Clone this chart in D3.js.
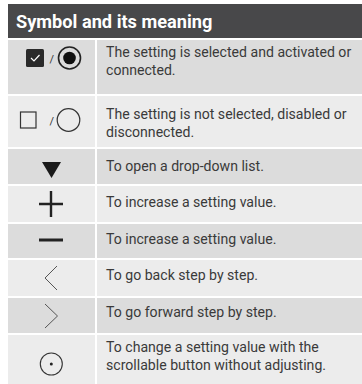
<!DOCTYPE html>
<html><head><meta charset="utf-8">
<script src="https://cdn.jsdelivr.net/npm/d3@7"></script>
<style>html,body{margin:0;padding:0;background:#fff;overflow:hidden}</style>
</head><body>
<svg id="c" width="362" height="384"></svg>
<script>
const headerTitle = "Symbol and its meaning";
const symbols = ["checked", "unchecked", "dropdown", "plus", "minus", "back", "forward", "scroll"];
const meanings = [
  ["The setting is selected and activated or", "connected."],
  ["The setting is not selected, disabled or", "disconnected."],
  ["To open a drop-down list."],
  ["To increase a setting value."],
  ["To increase a setting value."],
  ["To go back step by step."],
  ["To go forward step by step."],
  ["To change a setting value with the", "scrollable button without adjusting."]
];

// layout (not data)
const rowHeights = [54, 51, 35, 36, 34, 36, 35, 52];
const baseOff = [17, 23, 22, 21, 20, 20, 19, 17];
const iconOff = [18, 24, 21, 18, 16, 18, 18, 29];
const gap = 2, x0 = 8, colSplit = 95, x1 = 362, headerTop = 4, headerH = 34;
const lineH = 17.5;

const svg = d3.select("#c");
svg.append("rect").attr("x", x0).attr("y", headerTop).attr("width", x1 - x0).attr("height", headerH).attr("fill", "#48484a");
svg.append("text").attr("x", 16).attr("y", 28).attr("fill", "#fff")
  .attr("font-family", "Roboto").attr("font-weight", 700).attr("font-size", 18.2)
  .text(headerTitle);

let tops = [];
let y = headerTop + headerH + gap;
rowHeights.forEach(h => { tops.push(y); y += h + gap; });

const rows = symbols.map((s, i) => ({sym: s, lines: meanings[i], top: tops[i], h: rowHeights[i], i}));
const g = svg.selectAll("g.row").data(rows).join("g").attr("class", "row");
g.append("rect").attr("x", x0).attr("y", d => d.top).attr("width", colSplit - x0).attr("height", d => d.h)
  .attr("fill", d => d.i % 2 === 0 ? "#dcdcdc" : "#ececec");
g.append("rect").attr("x", colSplit + gap).attr("y", d => d.top).attr("width", x1 - colSplit - gap).attr("height", d => d.h)
  .attr("fill", d => d.i % 2 === 0 ? "#dcdcdc" : "#ececec");
g.each(function(d) {
  const t = d3.select(this).append("text").attr("x", 106).attr("y", d.top + baseOff[d.i])
    .attr("fill", "#3a3a3a").attr("font-family", "Roboto").attr("font-size", 14.1);
  d.lines.forEach((l, k) => t.append("tspan").attr("x", 106).attr("dy", k === 0 ? 0 : lineH).text(l));
});

const icons = {
  checked(gg, cy) {
    gg.append("rect").attr("x", 26).attr("y", cy - 9).attr("width", 18).attr("height", 18).attr("rx", 1.5).attr("fill", "#2a2a2a");
    gg.append("path").attr("d", `M31,${cy} L34,${cy+3} L39.5,${cy-3}`).attr("stroke", "#fff").attr("stroke-width", 1.2).attr("fill", "none");
    gg.append("text").attr("x", 49.5).attr("y", cy + 4.5).attr("font-family", "Roboto").attr("font-size", 11).attr("fill", "#333").text("/");
    gg.append("circle").attr("cx", 69.5).attr("cy", cy).attr("r", 11).attr("fill", "none").attr("stroke", "#222").attr("stroke-width", 1.6);
    gg.append("circle").attr("cx", 69.5).attr("cy", cy).attr("r", 6.3).attr("fill", "#111");
  },
  unchecked(gg, cy) {
    gg.append("rect").attr("x", 20.5).attr("y", cy - 8).attr("width", 15.5).attr("height", 16).attr("fill", "none").attr("stroke", "#333").attr("stroke-width", 1.2);
    gg.append("text").attr("x", 49.5).attr("y", cy + 4.5).attr("font-family", "Roboto").attr("font-size", 11).attr("fill", "#333").text("/");
    gg.append("circle").attr("cx", 68.5).attr("cy", cy).attr("r", 11.3).attr("fill", "none").attr("stroke", "#333").attr("stroke-width", 1.2);
  },
  dropdown(gg, cy) {
    gg.append("path").attr("d", `M42,${cy-8} L61,${cy-8} L51.5,${cy+8} Z`).attr("fill", "#1a1a1a");
  },
  plus(gg, cy) {
    gg.append("path").attr("d", `M39,${cy} H63 M51,${cy-13} V${cy+13}`).attr("stroke", "#222").attr("stroke-width", 2.4);
  },
  minus(gg, cy) {
    gg.append("path").attr("d", `M39,${cy} H63`).attr("stroke", "#222").attr("stroke-width", 3);
  },
  back(gg, cy) {
    gg.append("path").attr("d", `M57,${cy-12} L45,${cy} L57,${cy+12}`).attr("stroke", "#555").attr("stroke-width", 1).attr("fill", "none");
  },
  forward(gg, cy) {
    gg.append("path").attr("d", `M45,${cy-12} L57.5,${cy} L45,${cy+12}`).attr("stroke", "#555").attr("stroke-width", 1).attr("fill", "none");
  },
  scroll(gg, cy) {
    gg.append("circle").attr("cx", 51.3).attr("cy", cy).attr("r", 11).attr("fill", "none").attr("stroke", "#333").attr("stroke-width", 1.1);
    gg.append("circle").attr("cx", 51.3).attr("cy", cy).attr("r", 1.5).attr("fill", "#222");
  }
};
g.each(function(d) {
  icons[d.sym](d3.select(this).append("g"), d.top + iconOff[d.i]);
});
</script>
</body></html>
